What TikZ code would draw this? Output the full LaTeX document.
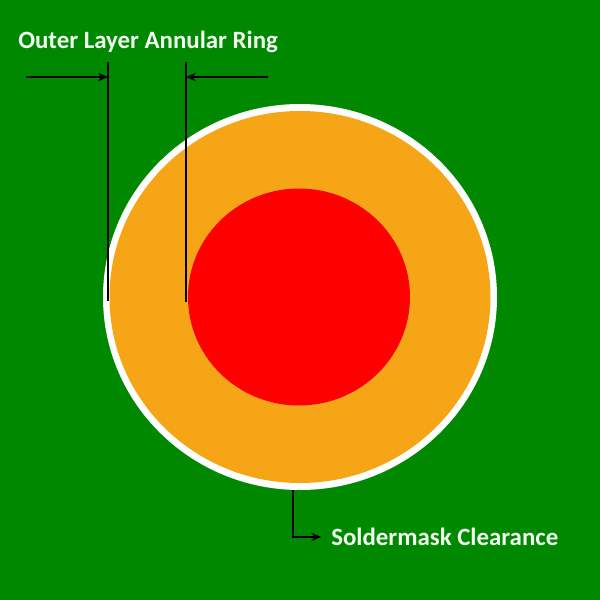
\documentclass[tikz,border=0pt]{standalone}
\usepackage{fontspec}
\setmainfont{Carlito}
\usetikzlibrary{arrows.meta}
\definecolor{boardgreen}{RGB}{0,136,0}
\definecolor{padorange}{RGB}{245,165,22}
\definecolor{drillred}{RGB}{255,0,0}
\definecolor{labelwhite}{RGB}{240,255,240}
\tikzset{
  label text/.style={text=labelwhite, font=\bfseries\fontsize{17.7}{19}\selectfont, inner sep=0pt},
  dim line/.style={line width=1.3pt, color=black},
  dim arrow/.style={dim line, -{Stealth[length=7pt,width=6pt]}}
}

\begin{document}
\begin{tikzpicture}[x=0.025cm, y=-0.025cm]
		%%%%% START %%%%%
		
		\fill[boardgreen] (0, 0) rectangle (600, 600);
		\useasboundingbox (0, 0) rectangle (600, 600);
		
		% pad, clearance and hole
		\fill[white] (300, 297) ellipse (197 and 193);
		\fill[padorange] (300, 297) ellipse (190.5 and 186);
		\fill[drillred] (299, 297) ellipse (111 and 108.5);
		
		% annular ring dimension
		\node[label text, anchor=west] (ringlabel) at (18, 42) {Outer Layer Annular Ring};
		\coordinate (outtop) at (108, 62);
		\coordinate (outbot) at (108, 301);
		\coordinate (intop) at (186, 62);
		\coordinate (inbot) at (186, 302);
		\draw[dim line] (outtop) -- (outbot);
		\draw[dim line] (intop) -- (inbot);
		\coordinate (leftstart) at (26, 77);
		\coordinate (rightstart) at (268, 77);
		\draw[dim arrow] (leftstart) -- (outtop |- leftstart);
		\draw[dim arrow] (rightstart) -- (intop |- rightstart);
		
		% soldermask clearance
		\node[label text, anchor=west] (masklabel) at (331, 537) {Soldermask Clearance};
		\coordinate (maskedge) at (293, 490);
		\draw[dim arrow] (maskedge) |- ([xshift=-7]masklabel.west);
		
		%%%%% END %%%%%
	\end{tikzpicture}
\end{document}
